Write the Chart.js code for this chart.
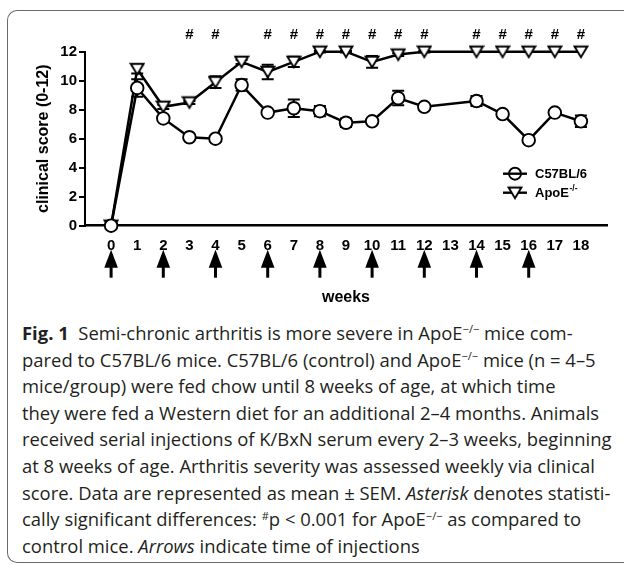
<!DOCTYPE html>
<html><head><meta charset="utf-8">
<script src="https://cdn.jsdelivr.net/npm/chart.js@4.4.1/dist/chart.umd.min.js"></script>
<style>
html,body{margin:0;padding:0;background:#fff;width:624px;height:565px;overflow:hidden;}
#frame{position:absolute;left:7px;top:10px;width:660px;height:553px;border:1.5px solid #6a6a6a;border-right:none;border-radius:10px 0 0 10px;box-sizing:border-box;}
#wrap{position:absolute;left:0;top:0;width:624px;height:310px;}
#caption{position:absolute;left:22px;top:320px;font-family:'Open Sans','Noto Sans',sans-serif;font-size:16px;line-height:26.6px;color:#231f20;white-space:nowrap;}
#caption sup{font-size:0.6em;vertical-align:0;position:relative;top:-0.6em;line-height:0;}
#caption b{font-weight:700;}
</style></head>
<body>
<div id="frame"></div>
<div id="wrap"><canvas id="c" width="624" height="310"></canvas></div>
<div id="caption">
<div><span><b>Fig. 1</b>&nbsp; Semi-chronic arthritis is more severe in ApoE<sup>−/−</sup> mice com-</span></div>
<div><span>pared to C57BL/6 mice. C57BL/6 (control) and ApoE<sup>−/−</sup> mice (n = 4–5</span></div>
<div><span>mice/group) were fed chow until 8 weeks of age, at which time</span></div>
<div><span>they were fed a Western diet for an additional 2–4 months. Animals</span></div>
<div><span id="l5">received serial injections of K/BxN serum every 2–3 weeks, beginning</span></div>
<div><span>at 8 weeks of age. Arthritis severity was assessed weekly via clinical</span></div>
<div><span>score. Data are represented as mean ± SEM. <i>Asterisk</i> denotes statisti-</span></div>
<div><span>cally significant differences: <sup>#</sup>p &lt; 0.001 for ApoE<sup>−/−</sup> as compared to</span></div>
<div><span>control mice. <i>Arrows</i> indicate time of injections</span></div>
</div>
<script>
// ---- data ----
const weeks      = [0, 1, 2, 3, 4, 5, 6, 7, 8, 9, 10, 11, 12, 14, 15, 16, 17, 18];
const c57Mean    = [0, 9.5, 7.4, 6.1, 6.0, 9.7, 7.8, 8.1, 7.9, 7.1, 7.2, 8.8, 8.2, 8.6, 7.7, 5.9, 7.8, 7.2];
const c57Sem     = [0, 0.6, 0.15, 0.1, 0.1, 0.4, 0.15, 0.6, 0.35, 0.3, 0.15, 0.5, 0.1, 0.35, 0.1, 0.1, 0.15, 0.4];
const apoeMean   = [0, 10.8, 8.2, 8.5, 9.9, 11.3, 10.6, 11.3, 12, 12, 11.3, 11.8, 12, 12, 12, 12, 12, 12];
const apoeSem    = [0, 0.3, 0.15, 0.1, 0.4, 0.15, 0.5, 0.35, 0.05, 0.05, 0.4, 0.1, 0.05, 0, 0, 0, 0, 0];
const xTickWeeks = [0, 1, 2, 3, 4, 5, 6, 7, 8, 9, 10, 11, 12, 13, 14, 15, 16, 17, 18];
const yTicks     = [0, 2, 4, 6, 8, 10, 12];
const injectionWeeks = [0, 2, 4, 6, 8, 10, 12, 14, 16];
const sigWeeks   = [3, 4, 6, 7, 8, 9, 10, 11, 12, 14, 15, 16, 17, 18];
const seriesNames = ['C57BL/6', 'ApoE'];
const semSeries = [c57Sem, apoeSem];

// fit caption width
(function(){
  const l5 = document.getElementById('l5');
  const w = l5.getBoundingClientRect().width;
  document.getElementById('caption').style.fontSize = (16 * 590 / w) + 'px';
})();

function makeTri(){
  const s = 16, cv = document.createElement('canvas');
  cv.width = s; cv.height = s;
  const g = cv.getContext('2d');
  g.beginPath(); g.moveTo(1.6, 2.8); g.lineTo(14.4, 2.8); g.lineTo(8, 13.4); g.closePath();
  g.fillStyle = '#fff'; g.fill();
  g.lineWidth = 1.9; g.strokeStyle = '#000'; g.stroke();
  return cv;
}
const triImg = makeTri();

const FONT = "'Liberation Sans', Arial, Helvetica, sans-serif";
Chart.defaults.font.family = FONT;
Chart.defaults.color = '#000';

const deco = {
  id: 'deco',
  beforeDatasetsDraw(chart){
    const {ctx, scales:{x, y}} = chart;
    ctx.save(); ctx.strokeStyle = '#000'; ctx.lineWidth = 2;
    chart.data.datasets.forEach((ds, di) => {
      const sem = semSeries[di];
      ds.data.forEach((p, i) => {
        const e = sem[i]; if (!e) return;
        const px = x.getPixelForValue(p.x);
        const y1 = y.getPixelForValue(p.y + e), y2 = y.getPixelForValue(p.y - e);
        ctx.beginPath();
        ctx.moveTo(px, y1); ctx.lineTo(px, y2);
        ctx.moveTo(px - 6, y1); ctx.lineTo(px + 6, y1);
        ctx.moveTo(px - 6, y2); ctx.lineTo(px + 6, y2);
        ctx.stroke();
      });
    });
    ctx.restore();
  },
  afterDraw(chart){
    const {ctx, chartArea:a, scales:{x}} = chart;
    ctx.save();
    // arrows
    ctx.fillStyle = '#000'; ctx.strokeStyle = '#000';
    injectionWeeks.forEach(w => {
      const px = x.getPixelForValue(w);
      const tip = a.bottom + 24, base = a.bottom + 42, end = a.bottom + 52;
      ctx.beginPath(); ctx.moveTo(px, tip); ctx.lineTo(px + 6.8, base); ctx.lineTo(px - 6.8, base); ctx.closePath(); ctx.fill();
      ctx.lineWidth = 3; ctx.beginPath(); ctx.moveTo(px, base - 1); ctx.lineTo(px, end); ctx.stroke();
    });
    // significance marks
    ctx.font = 'bold 15px ' + FONT; ctx.textAlign = 'center'; ctx.textBaseline = 'middle';
    sigWeeks.forEach(w => ctx.fillText('#', x.getPixelForValue(w), a.top - 17));
    // legend
    const lx0 = a.right - 104, lx1 = a.right - 80, mx = (lx0 + lx1) / 2, tx = a.right - 72;
    const ly = [a.top + 122, a.top + 141];
    ctx.lineWidth = 2.4;
    ly.forEach(yy => { ctx.beginPath(); ctx.moveTo(lx0, yy); ctx.lineTo(lx1, yy); ctx.stroke(); });
    ctx.beginPath(); ctx.arc(mx, ly[0], 6, 0, Math.PI*2); ctx.lineWidth = 1.9; ctx.stroke();
    ctx.drawImage(triImg, mx - 8, ly[1] - 8);
    ctx.textAlign = 'left'; ctx.font = 'bold 13px ' + FONT;
    ctx.fillText(seriesNames[0], tx, ly[0] + 0.5);
    ctx.fillText(seriesNames[1], tx, ly[1] + 0.5);
    const wA = ctx.measureText(seriesNames[1]).width;
    ctx.font = 'bold 8.5px ' + FONT;
    ctx.fillText('-/-', tx + wA + 0.5, ly[1] - 4);
    ctx.restore();
  }
};

new Chart(document.getElementById('c'), {
  type: 'line',
  data: {
    datasets: [
      { label: 'C57BL/6', data: weeks.map((w, i) => ({x: w, y: c57Mean[i]})),
        borderColor: '#000', borderWidth: 2.5, tension: 0, clip: false,
        pointStyle: 'circle', pointRadius: 6.3, pointBorderWidth: 1.9,
        pointBackgroundColor: '#fff', pointBorderColor: '#000' },
      { label: 'ApoE-/-', data: weeks.map((w, i) => ({x: w, y: apoeMean[i]})),
        borderColor: '#000', borderWidth: 2.5, tension: 0, clip: false,
        pointStyle: triImg, pointRadius: 7,
        pointBackgroundColor: '#fff', pointBorderColor: '#000' }
    ]
  },
  options: {
    responsive: false, animation: false, events: [],
    layout: { padding: { top: 51.7, right: 17, bottom: 0, left: 0 } },
    plugins: { legend: { display: false }, tooltip: { enabled: false } },
    scales: {
      x: {
        type: 'linear', min: -1, max: 19,
        afterBuildTicks: s => { s.ticks = xTickWeeks.map(v => ({value: v})); },
        afterFit: s => { s.height = 84.3; },
        grid: { display: false },
        border: { display: true, color: '#000', width: 2.5 },
        ticks: { autoSkip: false, maxRotation: 0, padding: 3, color: '#000', font: { size: 15, weight: 'bold' } },
        title: { display: true, text: 'weeks', color: '#000', font: { size: 16, weight: 'bold' }, padding: { top: 0, bottom: 3 } }
      },
      y: {
        min: 0, max: 12,
        afterBuildTicks: s => { s.ticks = yTicks.map(v => ({value: v})); },
        afterFit: s => { s.width = 85; },
        grid: { drawOnChartArea: false, drawTicks: true, tickLength: 6, color: '#000', lineWidth: 2 },
        border: { display: true, color: '#000', width: 2 },
        ticks: { padding: 2, color: '#000', font: { size: 15, weight: 'bold' } },
        title: { display: true, text: 'clinical score (0-12)', color: '#000', font: { size: 16, weight: 'bold' }, padding: { top: 34, bottom: 0 } }
      }
    }
  },
  plugins: [deco]
});
</script>
</body></html>
